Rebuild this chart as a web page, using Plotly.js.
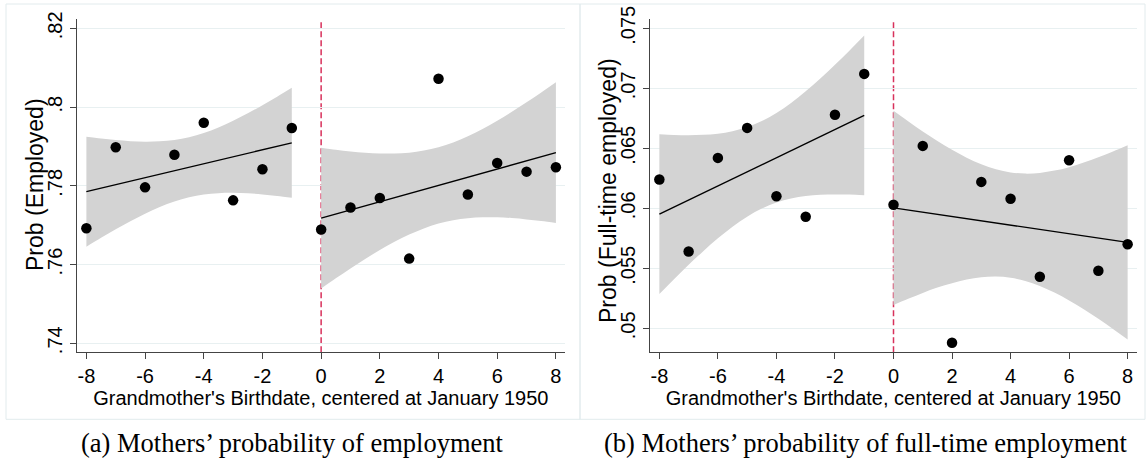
<!DOCTYPE html>
<html><head><meta charset="utf-8">
<script src="https://cdn.plot.ly/plotly-3.0.1.min.js"></script>
<style>html,body{margin:0;padding:0;background:#fff}#chart{width:1148px;height:465px}</style>
</head><body><div id="chart"></div>
<script>
// ---- data ----
const binsLeft  = [-8,-7,-6,-5,-4,-3,-2,-1];
const binsRight = [0,1,2,3,4,5,6,7,8];
const empLeft  = [0.7692,0.7898,0.7796,0.7879,0.7960,0.7763,0.7842,0.7947];
const empRight = [0.7689,0.7745,0.7769,0.7615,0.8072,0.7778,0.7858,0.7836,0.7847];
const ftLeft   = [0.0624,0.0564,0.0642,0.0667,0.0610,0.0593,0.0678,0.0712];
const ftRight  = [0.0603,0.0652,0.0488,0.0622,0.0608,0.0543,0.0640,0.0548,0.0570];

// fitted line and 95% CI band, read at half-unit steps
const gridLeft  = [-8,-7.5,-7,-6.5,-6,-5.5,-5,-4.5,-4,-3.5,-3,-2.5,-2,-1.5,-1];
const gridRight = [0,0.5,1,1.5,2,2.5,3,3.5,4,4.5,5,5.5,6,6.5,7,7.5,8];

const empFitLeft = [.77851,.77940,.78028,.78117,.78205,.78294,.78382,.78471,.78560,.78648,.78737,.78825,.78914,.79002,.79091];
const empUpLeft  = [.79248,.79201,.79161,.79133,.79120,.79129,.79165,.79236,.79343,.79483,.79652,.79841,.80047,.80263,.80488];
const empLoLeft  = [.76454,.76679,.76895,.77101,.77290,.77459,.77599,.77706,.77777,.77813,.77822,.77809,.77781,.77741,.77694];

const empFitRight = [.77179,.77283,.77387,.77491,.77595,.77698,.77802,.77906,.78010,.78114,.78218,.78321,.78425,.78529,.78633,.78737,.78841];
const empUpRight  = [.78968,.78917,.78874,.78841,.78822,.78820,.78842,.78894,.78980,.79102,.79258,.79443,.79652,.79879,.80120,.80371,.80630];
const empLoRight  = [.75390,.75649,.75900,.76141,.76368,.76576,.76762,.76918,.77040,.77126,.77178,.77199,.77198,.77179,.77146,.77103,.77052];

const ftFitLeft = [.05951,.06010,.06069,.06128,.06186,.06245,.06304,.06363,.06421,.06480,.06539,.06598,.06656,.06715,.06774];
const ftUpLeft  = [.06617,.06611,.06609,.06612,.06622,.06643,.06677,.06727,.06795,.06878,.06975,.07082,.07196,.07316,.07440];
const ftLoLeft  = [.05285,.05409,.05529,.05643,.05750,.05847,.05930,.05998,.06048,.06082,.06103,.06113,.06116,.06114,.06108];

const ftFitRight = [.06004,.05986,.05968,.05950,.05932,.05914,.05896,.05878,.05860,.05842,.05824,.05806,.05788,.05770,.05752,.05734,.05716];
const ftUpRight  = [.06813,.06726,.06641,.06561,.06487,.06422,.06367,.06325,.06299,.06289,.06295,.06314,.06343,.06381,.06425,.06473,.06525];
const ftLoRight  = [.05194,.05246,.05295,.05339,.05376,.05406,.05425,.05431,.05421,.05395,.05353,.05298,.05232,.05158,.05079,.04994,.04906];

const cutoff = 0;
const xTicks = [-8,-6,-4,-2,0,2,4,6,8];
const xTickText = ['-8','-6','-4','-2','0','2','4','6','8'];
const empTicks = [0.74,0.76,0.78,0.80,0.82];
const empTickText = ['.74','.76','.78','.8','.82'];
const ftTicks = [0.05,0.055,0.06,0.065,0.07,0.075];
const ftTickText = ['.05','.055','.06','.065','.07','.075'];

const xTitle = "Grandmother's Birthdate, centered at January 1950";
const yTitleA = 'Prob (Employed)';
const yTitleB = 'Prob (Full-time employed)';
const captionA = "(a) Mothers’ probability of employment";
const captionB = "(b) Mothers’ probability of full-time employment";

// ---- build traces ----
const BAND = '#d3d3d3';
function segment(xa, ya, grid, fit, up, lo) {
  return [
    {x: grid, y: up, xaxis: xa, yaxis: ya, mode: 'lines', line: {width: 0, shape: 'spline'}, hoverinfo: 'skip', showlegend: false},
    {x: grid, y: lo, xaxis: xa, yaxis: ya, mode: 'lines', line: {width: 0, shape: 'spline'}, fill: 'tonexty', fillcolor: BAND, hoverinfo: 'skip', showlegend: false},
    {x: grid, y: fit, xaxis: xa, yaxis: ya, mode: 'lines', line: {color: '#000', width: 1.4}, showlegend: false},
  ];
}
function dots(xa, ya, xs, ys) {
  return {x: xs, y: ys, xaxis: xa, yaxis: ya, mode: 'markers', marker: {color: '#000', size: 10.5}, showlegend: false};
}
const traces = [].concat(
  segment('x','y', gridLeft, empFitLeft, empUpLeft, empLoLeft),
  segment('x','y', gridRight, empFitRight, empUpRight, empLoRight),
  segment('x2','y2', gridLeft, ftFitLeft, ftUpLeft, ftLoLeft),
  segment('x2','y2', gridRight, ftFitRight, ftUpRight, ftLoRight),
  [dots('x','y', binsLeft, empLeft), dots('x','y', binsRight, empRight),
   dots('x2','y2', binsLeft, ftLeft), dots('x2','y2', binsRight, ftRight)]
);

const W = 1148, H = 465;
const FONT = 'Liberation Sans, Arial, sans-serif';
const yDom = [(H-352.3)/H, (H-19.3)/H];
function xax(domain, range) {
  return {domain: domain, range: range, tickvals: xTicks, ticktext: xTickText, ticks: 'outside', ticklen: 6, tickcolor: '#444', tickwidth: 1,
    showline: true, linecolor: '#444', linewidth: 1, showgrid: false, zeroline: false,
    tickfont: {family: FONT, size: 20, color: '#000'},
    title: {text: xTitle, font: {family: FONT, size: 20, color: '#000'}, standoff: 0}};
}
function yax(domain, range, tv, tt) {
  return {domain: domain, range: range, tickvals: tv, ticktext: tt, tickangle: -90, ticks: 'outside', ticklen: 6, tickcolor: '#444', tickwidth: 1,
    showline: true, linecolor: '#444', linewidth: 1, showgrid: true, gridcolor: '#e8f0f1', gridwidth: 1, zeroline: false,
    tickfont: {family: FONT, size: 20, color: '#000'}};
}
const frameColor = '#e2ebed';
const SERIF = 'Liberation Serif, Times New Roman, serif';
const layout = {
  width: W, height: H, margin: {l: 0, r: 0, t: 0, b: 0}, paper_bgcolor: '#fff', plot_bgcolor: 'rgba(0,0,0,0)',
  showlegend: false,
  xaxis: Object.assign(xax([76.7/W, 565/W], [-8.33, 8.31]), {anchor: 'y'}),
  yaxis: Object.assign(yax(yDom, [0.7377, 0.8223], empTicks, empTickText), {anchor: 'x'}),
  xaxis2: Object.assign(xax([650/W, 1136.7/W], [-8.32, 8.31]), {anchor: 'y2'}),
  yaxis2: Object.assign(yax(yDom, [0.0480, 0.07575], ftTicks, ftTickText), {anchor: 'x2'}),
  shapes: [
    {type: 'rect', xref: 'paper', yref: 'paper', x0: 6/W, x1: 580/W, y0: (H-419.3)/H, y1: (H-4)/H, line: {color: frameColor, width: 1}, layer: 'below'},
    {type: 'rect', xref: 'paper', yref: 'paper', x0: 580/W, x1: 1145/W, y0: (H-419.3)/H, y1: (H-4)/H, line: {color: frameColor, width: 1}, layer: 'below'},
    {type: 'line', xref: 'x', yref: 'y domain', x0: cutoff, x1: cutoff, y0: 0, y1: 1, line: {color: '#d8315b', width: 1.5, dash: '6px,3px'}, layer: 'below'},
    {type: 'line', xref: 'x2', yref: 'y2 domain', x0: cutoff, x1: cutoff, y0: 0, y1: 1, line: {color: '#d8315b', width: 1.5, dash: '6px,3px'}, layer: 'below'}
  ],
  annotations: [
    {text: yTitleA, xref: 'paper', yref: 'paper', x: 35/W, y: (H-185)/H, xanchor: 'center', yanchor: 'middle', textangle: -90, showarrow: false,
     font: {family: FONT, size: 23, color: '#000'}},
    {text: yTitleB, xref: 'paper', yref: 'paper', x: 608/W, y: (H-191)/H, xanchor: 'center', yanchor: 'middle', textangle: -90, showarrow: false,
     font: {family: FONT, size: 23, color: '#000'}},
    {text: captionA, xref: 'paper', yref: 'paper', x: 292/W, y: (H-443)/H, xanchor: 'center', yanchor: 'middle', showarrow: false,
     font: {family: SERIF, size: 26.5, color: '#000'}},
    {text: captionB, xref: 'paper', yref: 'paper', x: 865.5/W, y: (H-443)/H, xanchor: 'center', yanchor: 'middle', showarrow: false,
     font: {family: SERIF, size: 26.5, color: '#000'}}
  ]
};
Plotly.newPlot('chart', traces, layout, {staticPlot: true, displayModeBar: false});
</script></body></html>
